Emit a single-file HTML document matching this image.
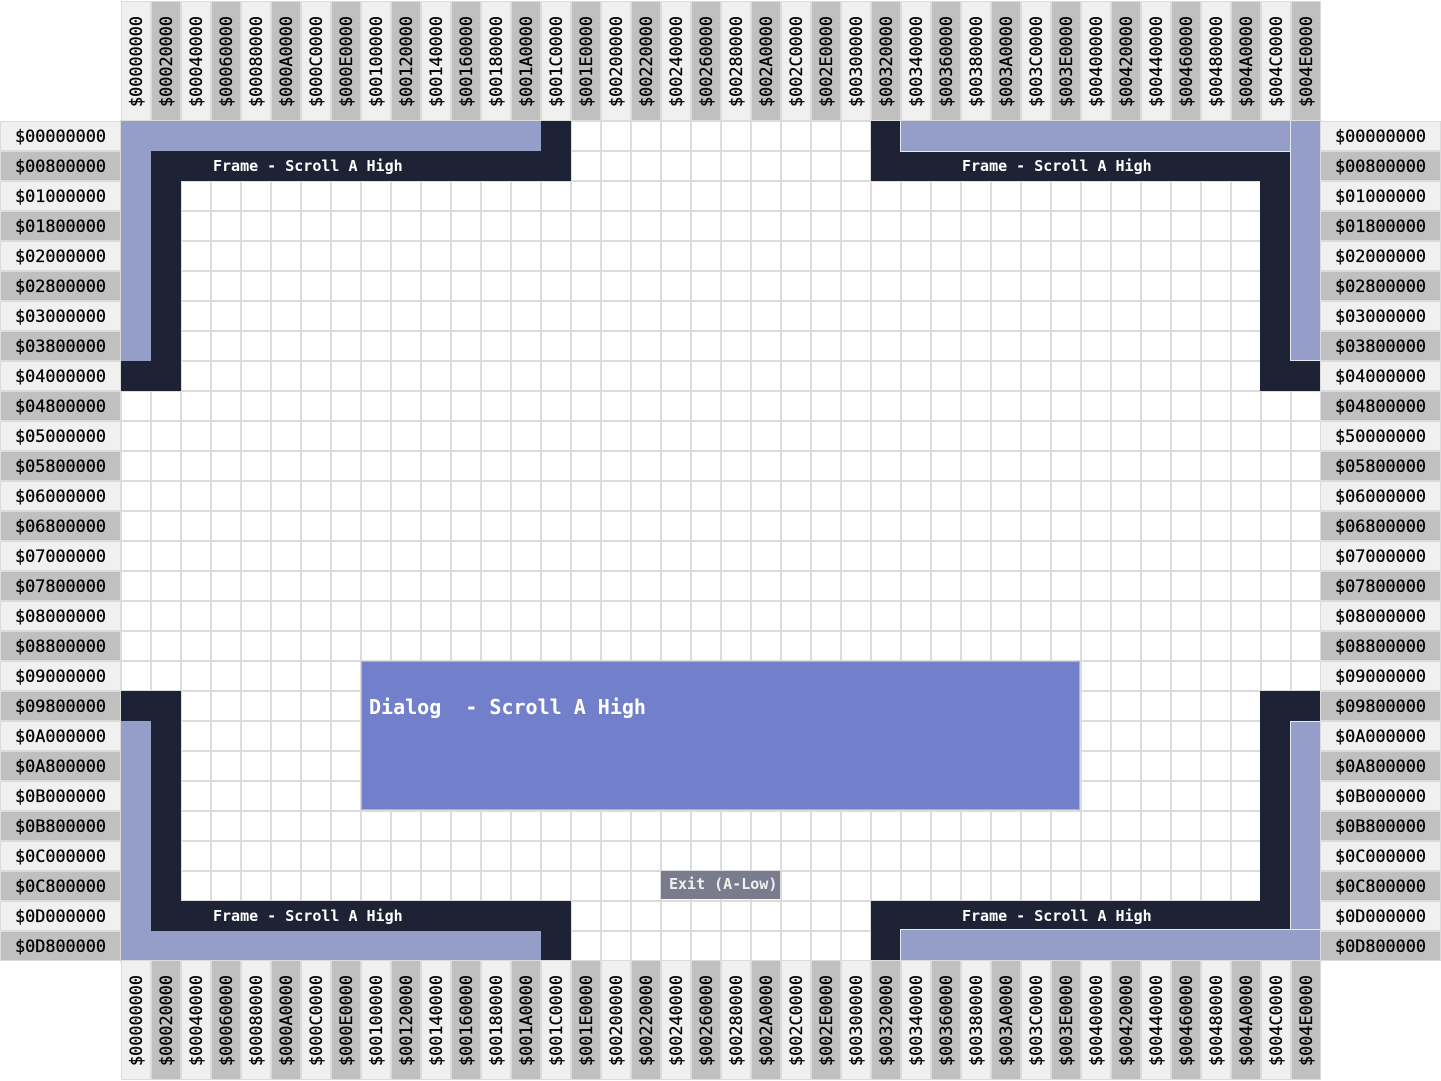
<!DOCTYPE html>
<html><head><meta charset="utf-8">
<style>
*{box-sizing:border-box;margin:0;padding:0}
body{width:1441px;height:1081px;background:#fff;position:relative;overflow:hidden;font-family:"DejaVu Sans Mono","Liberation Mono",monospace}
.grid{position:absolute;left:120px;top:120px;width:1202px;height:842px;
background-image:linear-gradient(to right,#dcdcdc 0,#dcdcdc 2px,transparent 2px),linear-gradient(to bottom,#dcdcdc 0,#dcdcdc 2px,transparent 2px);
background-size:30px 30px}
.c{position:absolute;width:30px;height:120px;border:1px solid #dcdcdc;background:#f0f0f0}
.c.g{background:#c0c0c0}
.c span{position:absolute;left:0;width:28px;bottom:13px;writing-mode:vertical-rl;transform:rotate(180deg);line-height:28px;text-align:center;font-size:16.8px;font-weight:normal;color:#000;white-space:nowrap;-webkit-text-stroke:0.3px #000}
.r{position:absolute;width:121px;height:30px;border:1px solid #dcdcdc;background:#f0f0f0;font-size:16.8px;font-weight:normal;line-height:28px;text-align:center;color:#000;-webkit-text-stroke:0.3px #000}
.r.g{background:#c0c0c0}
.d{position:absolute;background:#1e2235}
.l{position:absolute;background:#959dc9;border:1px solid #e8e8f0}
.ft{position:absolute;color:#fff;font-weight:bold;font-size:15px;line-height:16px;white-space:pre}
</style></head><body>
<div class="grid"></div>

<div class="d" style="left:541px;top:121px;width:30px;height:60px"></div>
<div class="d" style="left:151px;top:151px;width:420px;height:30px"></div>
<div class="d" style="left:151px;top:151px;width:30px;height:240px"></div>
<div class="d" style="left:121px;top:361px;width:60px;height:30px"></div>
<div class="l" style="left:121px;top:121px;width:420px;height:30px;border:none"></div>
<div class="l" style="left:121px;top:121px;width:30px;height:240px;border:none"></div>
<div class="ft" style="left:213px;top:158px">Frame - Scroll A High</div>

<div class="d" style="left:871px;top:121px;width:30px;height:60px"></div>
<div class="d" style="left:871px;top:151px;width:420px;height:30px"></div>
<div class="d" style="left:1260px;top:151px;width:30px;height:240px"></div>
<div class="d" style="left:1260px;top:361px;width:60px;height:30px"></div>
<div class="l" style="left:900px;top:121px;width:420px;height:31px;border:none;border-left:1px solid #e8e8f0;border-bottom:1px solid #e8e8f0"></div>
<div class="l" style="left:1290px;top:121px;width:30px;height:240px;border:none;border-left:1px solid #e8e8f0;border-bottom:1px solid #e8e8f0"></div>
<div class="ft" style="left:962px;top:158px">Frame - Scroll A High</div>

<div class="d" style="left:121px;top:691px;width:60px;height:30px"></div>
<div class="d" style="left:151px;top:691px;width:30px;height:240px"></div>
<div class="d" style="left:151px;top:901px;width:420px;height:30px"></div>
<div class="d" style="left:541px;top:901px;width:30px;height:60px"></div>
<div class="l" style="left:121px;top:721px;width:30px;height:240px;border:none"></div>
<div class="l" style="left:121px;top:931px;width:420px;height:30px;border:none"></div>
<div class="ft" style="left:213px;top:908px">Frame - Scroll A High</div>

<div class="d" style="left:1260px;top:691px;width:60px;height:30px"></div>
<div class="d" style="left:1260px;top:691px;width:30px;height:240px"></div>
<div class="d" style="left:871px;top:901px;width:420px;height:30px"></div>
<div class="d" style="left:871px;top:901px;width:30px;height:60px"></div>
<div class="l" style="left:1290px;top:721px;width:30px;height:240px;border:none;border-left:1px solid #e8e8f0;border-top:1px solid #e8e8f0"></div>
<div class="l" style="left:900px;top:929px;width:420px;height:32px;border:none;border-left:1px solid #e8e8f0;border-top:1px solid #e8e8f0"></div>
<div class="ft" style="left:962px;top:908px">Frame - Scroll A High</div>

<div style="position:absolute;left:361px;top:661px;width:719px;height:149px;background:#7280cb;border:1px solid #aab2e6"></div>
<div class="ft" style="left:369px;top:696px;font-size:20px;line-height:22px">Dialog  - Scroll A High</div>

<div style="position:absolute;left:661px;top:871px;width:119px;height:28px;background:#7a7b8c"></div>
<div class="ft" style="left:669px;top:876px;color:#f0f0f0">Exit (A-Low)</div>

<div class="c" style="left:121px;top:1px"><span>$00000000</span></div>
<div class="c g" style="left:151px;top:1px"><span>$00020000</span></div>
<div class="c" style="left:181px;top:1px"><span>$00040000</span></div>
<div class="c g" style="left:211px;top:1px"><span>$00060000</span></div>
<div class="c" style="left:241px;top:1px"><span>$00080000</span></div>
<div class="c g" style="left:271px;top:1px"><span>$000A0000</span></div>
<div class="c" style="left:301px;top:1px"><span>$000C0000</span></div>
<div class="c g" style="left:331px;top:1px"><span>$000E0000</span></div>
<div class="c" style="left:361px;top:1px"><span>$00100000</span></div>
<div class="c g" style="left:391px;top:1px"><span>$00120000</span></div>
<div class="c" style="left:421px;top:1px"><span>$00140000</span></div>
<div class="c g" style="left:451px;top:1px"><span>$00160000</span></div>
<div class="c" style="left:481px;top:1px"><span>$00180000</span></div>
<div class="c g" style="left:511px;top:1px"><span>$001A0000</span></div>
<div class="c" style="left:541px;top:1px"><span>$001C0000</span></div>
<div class="c g" style="left:571px;top:1px"><span>$001E0000</span></div>
<div class="c" style="left:601px;top:1px"><span>$00200000</span></div>
<div class="c g" style="left:631px;top:1px"><span>$00220000</span></div>
<div class="c" style="left:661px;top:1px"><span>$00240000</span></div>
<div class="c g" style="left:691px;top:1px"><span>$00260000</span></div>
<div class="c" style="left:721px;top:1px"><span>$00280000</span></div>
<div class="c g" style="left:751px;top:1px"><span>$002A0000</span></div>
<div class="c" style="left:781px;top:1px"><span>$002C0000</span></div>
<div class="c g" style="left:811px;top:1px"><span>$002E0000</span></div>
<div class="c" style="left:841px;top:1px"><span>$00300000</span></div>
<div class="c g" style="left:871px;top:1px"><span>$00320000</span></div>
<div class="c" style="left:901px;top:1px"><span>$00340000</span></div>
<div class="c g" style="left:931px;top:1px"><span>$00360000</span></div>
<div class="c" style="left:961px;top:1px"><span>$00380000</span></div>
<div class="c g" style="left:991px;top:1px"><span>$003A0000</span></div>
<div class="c" style="left:1021px;top:1px"><span>$003C0000</span></div>
<div class="c g" style="left:1051px;top:1px"><span>$003E0000</span></div>
<div class="c" style="left:1081px;top:1px"><span>$00400000</span></div>
<div class="c g" style="left:1111px;top:1px"><span>$00420000</span></div>
<div class="c" style="left:1141px;top:1px"><span>$00440000</span></div>
<div class="c g" style="left:1171px;top:1px"><span>$00460000</span></div>
<div class="c" style="left:1201px;top:1px"><span>$00480000</span></div>
<div class="c g" style="left:1231px;top:1px"><span>$004A0000</span></div>
<div class="c" style="left:1261px;top:1px"><span>$004C0000</span></div>
<div class="c g" style="left:1291px;top:1px"><span>$004E0000</span></div>

<div class="c" style="left:121px;top:960px"><span>$00000000</span></div>
<div class="c g" style="left:151px;top:960px"><span>$00020000</span></div>
<div class="c" style="left:181px;top:960px"><span>$00040000</span></div>
<div class="c g" style="left:211px;top:960px"><span>$00060000</span></div>
<div class="c" style="left:241px;top:960px"><span>$00080000</span></div>
<div class="c g" style="left:271px;top:960px"><span>$000A0000</span></div>
<div class="c" style="left:301px;top:960px"><span>$000C0000</span></div>
<div class="c g" style="left:331px;top:960px"><span>$000E0000</span></div>
<div class="c" style="left:361px;top:960px"><span>$00100000</span></div>
<div class="c g" style="left:391px;top:960px"><span>$00120000</span></div>
<div class="c" style="left:421px;top:960px"><span>$00140000</span></div>
<div class="c g" style="left:451px;top:960px"><span>$00160000</span></div>
<div class="c" style="left:481px;top:960px"><span>$00180000</span></div>
<div class="c g" style="left:511px;top:960px"><span>$001A0000</span></div>
<div class="c" style="left:541px;top:960px"><span>$001C0000</span></div>
<div class="c g" style="left:571px;top:960px"><span>$001E0000</span></div>
<div class="c" style="left:601px;top:960px"><span>$00200000</span></div>
<div class="c g" style="left:631px;top:960px"><span>$00220000</span></div>
<div class="c" style="left:661px;top:960px"><span>$00240000</span></div>
<div class="c g" style="left:691px;top:960px"><span>$00260000</span></div>
<div class="c" style="left:721px;top:960px"><span>$00280000</span></div>
<div class="c g" style="left:751px;top:960px"><span>$002A0000</span></div>
<div class="c" style="left:781px;top:960px"><span>$002C0000</span></div>
<div class="c g" style="left:811px;top:960px"><span>$002E0000</span></div>
<div class="c" style="left:841px;top:960px"><span>$00300000</span></div>
<div class="c g" style="left:871px;top:960px"><span>$00320000</span></div>
<div class="c" style="left:901px;top:960px"><span>$00340000</span></div>
<div class="c g" style="left:931px;top:960px"><span>$00360000</span></div>
<div class="c" style="left:961px;top:960px"><span>$00380000</span></div>
<div class="c g" style="left:991px;top:960px"><span>$003A0000</span></div>
<div class="c" style="left:1021px;top:960px"><span>$003C0000</span></div>
<div class="c g" style="left:1051px;top:960px"><span>$003E0000</span></div>
<div class="c" style="left:1081px;top:960px"><span>$00400000</span></div>
<div class="c g" style="left:1111px;top:960px"><span>$00420000</span></div>
<div class="c" style="left:1141px;top:960px"><span>$00440000</span></div>
<div class="c g" style="left:1171px;top:960px"><span>$00460000</span></div>
<div class="c" style="left:1201px;top:960px"><span>$00480000</span></div>
<div class="c g" style="left:1231px;top:960px"><span>$004A0000</span></div>
<div class="c" style="left:1261px;top:960px"><span>$004C0000</span></div>
<div class="c g" style="left:1291px;top:960px"><span>$004E0000</span></div>

<div class="r" style="left:0;top:121px">$00000000</div>
<div class="r g" style="left:0;top:151px">$00800000</div>
<div class="r" style="left:0;top:181px">$01000000</div>
<div class="r g" style="left:0;top:211px">$01800000</div>
<div class="r" style="left:0;top:241px">$02000000</div>
<div class="r g" style="left:0;top:271px">$02800000</div>
<div class="r" style="left:0;top:301px">$03000000</div>
<div class="r g" style="left:0;top:331px">$03800000</div>
<div class="r" style="left:0;top:361px">$04000000</div>
<div class="r g" style="left:0;top:391px">$04800000</div>
<div class="r" style="left:0;top:421px">$05000000</div>
<div class="r g" style="left:0;top:451px">$05800000</div>
<div class="r" style="left:0;top:481px">$06000000</div>
<div class="r g" style="left:0;top:511px">$06800000</div>
<div class="r" style="left:0;top:541px">$07000000</div>
<div class="r g" style="left:0;top:571px">$07800000</div>
<div class="r" style="left:0;top:601px">$08000000</div>
<div class="r g" style="left:0;top:631px">$08800000</div>
<div class="r" style="left:0;top:661px">$09000000</div>
<div class="r g" style="left:0;top:691px">$09800000</div>
<div class="r" style="left:0;top:721px">$0A000000</div>
<div class="r g" style="left:0;top:751px">$0A800000</div>
<div class="r" style="left:0;top:781px">$0B000000</div>
<div class="r g" style="left:0;top:811px">$0B800000</div>
<div class="r" style="left:0;top:841px">$0C000000</div>
<div class="r g" style="left:0;top:871px">$0C800000</div>
<div class="r" style="left:0;top:901px">$0D000000</div>
<div class="r g" style="left:0;top:931px">$0D800000</div>

<div class="r" style="left:1320px;top:121px">$00000000</div>
<div class="r g" style="left:1320px;top:151px">$00800000</div>
<div class="r" style="left:1320px;top:181px">$01000000</div>
<div class="r g" style="left:1320px;top:211px">$01800000</div>
<div class="r" style="left:1320px;top:241px">$02000000</div>
<div class="r g" style="left:1320px;top:271px">$02800000</div>
<div class="r" style="left:1320px;top:301px">$03000000</div>
<div class="r g" style="left:1320px;top:331px">$03800000</div>
<div class="r" style="left:1320px;top:361px">$04000000</div>
<div class="r g" style="left:1320px;top:391px">$04800000</div>
<div class="r" style="left:1320px;top:421px">$50000000</div>
<div class="r g" style="left:1320px;top:451px">$05800000</div>
<div class="r" style="left:1320px;top:481px">$06000000</div>
<div class="r g" style="left:1320px;top:511px">$06800000</div>
<div class="r" style="left:1320px;top:541px">$07000000</div>
<div class="r g" style="left:1320px;top:571px">$07800000</div>
<div class="r" style="left:1320px;top:601px">$08000000</div>
<div class="r g" style="left:1320px;top:631px">$08800000</div>
<div class="r" style="left:1320px;top:661px">$09000000</div>
<div class="r g" style="left:1320px;top:691px">$09800000</div>
<div class="r" style="left:1320px;top:721px">$0A000000</div>
<div class="r g" style="left:1320px;top:751px">$0A800000</div>
<div class="r" style="left:1320px;top:781px">$0B000000</div>
<div class="r g" style="left:1320px;top:811px">$0B800000</div>
<div class="r" style="left:1320px;top:841px">$0C000000</div>
<div class="r g" style="left:1320px;top:871px">$0C800000</div>
<div class="r" style="left:1320px;top:901px">$0D000000</div>
<div class="r g" style="left:1320px;top:931px">$0D800000</div>
</body></html>
